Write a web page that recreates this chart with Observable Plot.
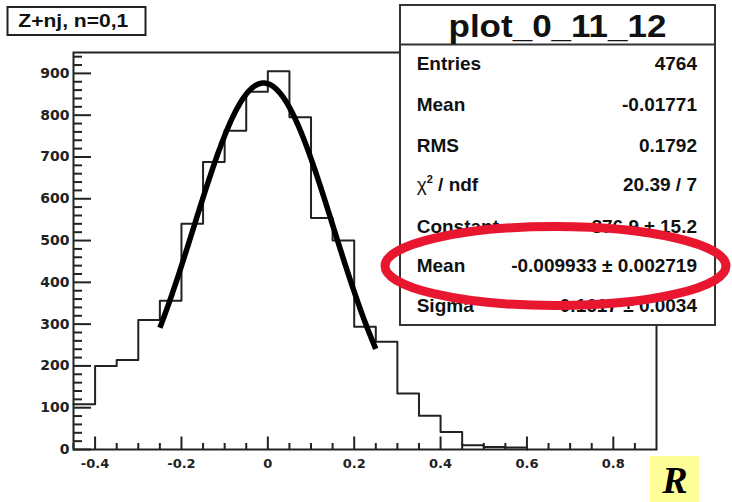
<!DOCTYPE html>
<html>
<head>
<meta charset="utf-8">
<script src="https://cdn.jsdelivr.net/npm/d3@7"></script>
<script src="https://cdn.jsdelivr.net/npm/@observablehq/plot@0.6"></script>
<style>
  html, body { margin: 0; padding: 0; background: #fff; }
  #chart { position: relative; width: 732px; height: 502px; overflow: hidden; }
  #chart > svg { display: block; }
  #chart > svg.overlay { position: absolute; left: 0; top: 0; }
</style>
</head>
<body>
<div id="chart"></div>
<script>
// Histogram of R: lower bin edges (bin width 0.05) and bin contents
const binLow = [-0.45, -0.40, -0.35, -0.30, -0.25, -0.20, -0.15, -0.10, -0.05, 0.00, 0.05,
                0.10, 0.15, 0.20, 0.25, 0.30, 0.35, 0.40, 0.45, 0.50, 0.55];
const binCount = [108, 200, 214, 310, 356, 540, 688, 763, 856, 905, 795,
                  554, 500, 294, 258, 134, 81, 42, 10, 6, 5];
const binWidth = 0.05;

// Gaussian fit over [-0.25, 0.25]
const fitConstant = 876.9, fitConstantErr = 15.2;
const fitMean = -0.009933, fitMeanErr = 0.002719;
const fitSigma = 0.1617, fitSigmaErr = 0.0034;
const fitRange = [-0.25, 0.25];
const fitChi2 = 20.39, fitNdf = 7;

// Histogram statistics
const histEntries = 4764, histMean = -0.01771, histRms = 0.1792;

// Texts
const histName = "plot_0_11_12";
const sampleLabel = "Z+nj, n=0,1";
const axisName = "R";

// Tick labels
const xTickLabels = [-0.4, -0.2, 0, 0.2, 0.4, 0.6, 0.8];
const yTickLabels = [0, 100, 200, 300, 400, 500, 600, 700, 800, 900];

// ---------------------------------------------------------------
const W = 732, H = 502;
const mL = 73, mR = 76, mT = 52, mB = 53;
const innerW = W - mL - mR, innerH = H - mT - mB;
const ink = "#222";

const round2 = v => Math.round(v * 100) / 100;
const yMinor = d3.range(0, 950, 20).filter(v => v % 100 !== 0);
const xMinor = d3.range(-0.45, 0.9, 0.05).map(round2)
  .filter(v => !xTickLabels.some(t => Math.abs(t - v) < 1e-9));

// Step outline of the histogram, closed at the upper edge of the last bin
const steps = binLow.map((x, i) => ({x, y: binCount[i]}));
steps.push({x: round2(binLow[binLow.length - 1] + binWidth), y: 0});

// Fitted Gaussian evaluated over the fit range
const gauss = x => fitConstant * Math.exp(-0.5 * ((x - fitMean) / fitSigma) ** 2);
const fitCurve = d3.range(fitRange[0], fitRange[1] + 1e-9, 0.0025).map(x => ({x, y: gauss(x)}));

const plot = Plot.plot({
  width: W,
  height: H,
  marginLeft: mL,
  marginRight: mR,
  marginTop: mT,
  marginBottom: mB,
  style: {background: "white", overflow: "visible"},
  x: {domain: [-0.45, 0.9]},
  y: {domain: [0, 950]},
  marks: [
    // ROOT-style inward ticks
    Plot.tickY(yMinor, {y: d => d, stroke: ink, strokeWidth: 2, insetRight: innerW - 9}),
    Plot.tickY(yTickLabels, {y: d => d, stroke: ink, strokeWidth: 2, insetRight: innerW - 18}),
    Plot.tickX(xMinor, {x: d => d, stroke: ink, strokeWidth: 2, insetTop: innerH - 6}),
    Plot.tickX(xTickLabels, {x: d => d, stroke: ink, strokeWidth: 2, insetTop: innerH - 12.5}),
    // histogram outline
    Plot.line(steps, {x: "x", y: "y", curve: "step-after", stroke: ink, strokeWidth: 2}),
    // fit
    Plot.line(fitCurve, {x: "x", y: "y", stroke: "#000", strokeWidth: 5.5, strokeLinecap: "butt"}),
    Plot.frame({stroke: ink, strokeWidth: 2}),
    Plot.axisY(yTickLabels, {
      tickSize: 0, tickPadding: 4, label: null, tickFormat: d => String(d),
      fontSize: 14, fontWeight: "bold", fontFamily: "DejaVu Sans", fill: ink
    }),
    Plot.axisX(xTickLabels, {
      tickSize: 0, tickPadding: 9, label: null, tickFormat: d => String(d),
      fontSize: 13, fontWeight: "bold", fontFamily: "DejaVu Sans", fill: ink
    })
  ]
});

const chart = document.getElementById("chart");
chart.appendChild(plot);

// ---------------------------------------------------------------
// Annotation layer: sample label, statistics box, highlight, axis name
const svg = d3.select(chart).append("svg")
  .attr("class", "overlay")
  .attr("width", W)
  .attr("height", H);

const sans = "'Liberation Sans', Arial, Helvetica, sans-serif";

// sample label
svg.append("rect")
  .attr("x", 7.5).attr("y", 7).attr("width", 138).attr("height", 28)
  .attr("fill", "#fff").attr("stroke", ink).attr("stroke-width", 2);
svg.append("text")
  .attr("x", 18.3).attr("y", 27.3)
  .attr("textLength", 110).attr("lengthAdjust", "spacingAndGlyphs")
  .attr("font-family", sans).attr("font-weight", "bold").attr("font-size", 19)
  .attr("fill", "#111")
  .text(sampleLabel);

// statistics box
const box = {x: 400, y: 5, w: 315, h: 320};
svg.append("rect")
  .attr("x", box.x).attr("y", box.y).attr("width", box.w).attr("height", box.h)
  .attr("fill", "#fff").attr("stroke", "#333").attr("stroke-width", 2);
svg.append("line")
  .attr("x1", box.x).attr("x2", box.x + box.w).attr("y1", 44.5).attr("y2", 44.5)
  .attr("stroke", "#333").attr("stroke-width", 2);
svg.append("text")
  .attr("x", box.x + box.w / 2).attr("y", 36.5)
  .attr("text-anchor", "middle")
  .attr("textLength", 218).attr("lengthAdjust", "spacingAndGlyphs")
  .attr("font-family", sans).attr("font-weight", "bold").attr("font-size", 31)
  .attr("fill", "#111")
  .text(histName);

const pm = (v, e) => `${v} \u00b1 ${e}`;
const rows = [
  {label: "Entries", value: String(histEntries)},
  {label: "Mean", value: String(histMean)},
  {label: "RMS", value: String(histRms)},
  {label: "chi2", value: `${fitChi2.toFixed(2)} / ${fitNdf}`},
  {label: "Constant", value: pm(fitConstant.toFixed(1), fitConstantErr.toFixed(1))},
  {label: "Mean", value: pm(fitMean.toFixed(6), fitMeanErr.toFixed(6))},
  {label: "Sigma", value: pm(fitSigma.toFixed(4), fitSigmaErr.toFixed(4))}
];
const rowBase = [70, 111, 151.5, 191, 233, 272, 312];

rows.forEach((r, i) => {
  const t = svg.append("text")
    .attr("x", 416.7).attr("y", rowBase[i])
    .attr("font-family", sans).attr("font-weight", "bold").attr("font-size", 19)
    .attr("fill", "#111");
  if (r.label === "chi2") {
    t.append("tspan").attr("font-weight", "normal").text("\u03c7");
    t.append("tspan").attr("font-size", 11).attr("dy", -8).text("2");
    t.append("tspan").attr("dy", 8).text(" / ndf");
  } else {
    t.text(r.label);
  }
  svg.append("text")
    .attr("x", 697).attr("y", rowBase[i])
    .attr("text-anchor", "end")
    .attr("font-family", sans).attr("font-weight", "bold").attr("font-size", 19)
    .attr("fill", "#111")
    .text(r.value);
});

// highlight around the fitted mean
svg.append("ellipse")
  .attr("cx", 555.5).attr("cy", 266).attr("rx", 170.5).attr("ry", 39.5)
  .attr("fill", "none").attr("stroke", "#e8162e").attr("stroke-width", 9);

// axis name
svg.append("rect")
  .attr("x", 650).attr("y", 456).attr("width", 49).attr("height", 46)
  .attr("fill", "#ffff99");
svg.append("text")
  .attr("x", 675).attr("y", 493)
  .attr("text-anchor", "middle")
  .attr("font-family", "'Liberation Serif', 'Times New Roman', serif")
  .attr("font-weight", "bold").attr("font-style", "italic").attr("font-size", 38)
  .attr("fill", "#000")
  .text(axisName);
</script>
</body>
</html>
